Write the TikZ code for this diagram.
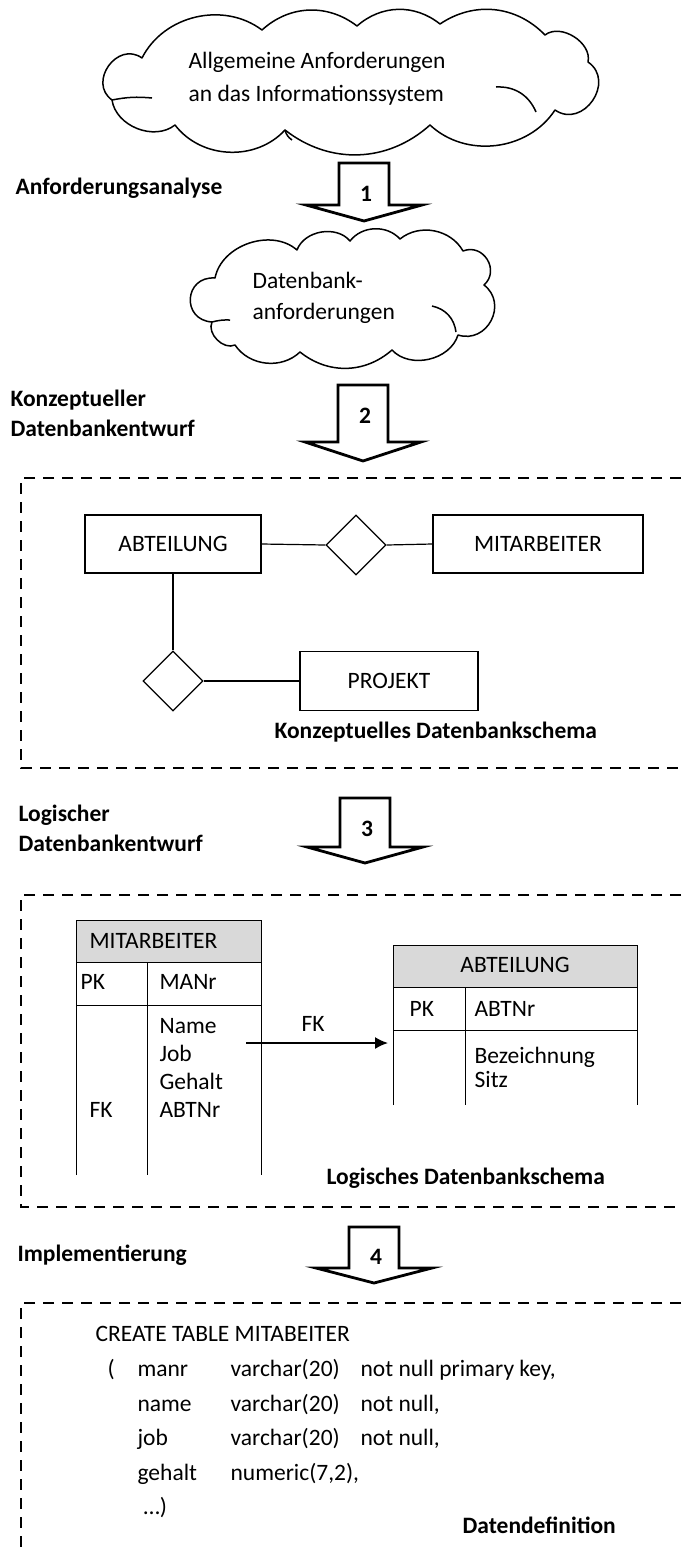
\documentclass[tikz,border=0pt]{standalone}
\usepackage{fontspec}
\setmainfont{Carlito}
\usetikzlibrary{shapes.geometric, arrows.meta}

\definecolor{kopfgrau}{HTML}{D9D9D9}

\begin{document}
\begin{tikzpicture}[x=1pt, y=-1pt, line width=1.2pt,
  txt/.style={font=\fontsize{23.5}{30}\selectfont, inner sep=0pt, anchor=west, text height=17pt, text depth=5pt},
  fett/.style={txt, font=\fontsize{23.5}{30}\selectfont\bfseries},
  wolke/.style={line width=1.5pt, line join=round},
  rahmen/.style={dash pattern=on 11pt off 8pt, line width=1.2pt},
  entity/.style={draw, rectangle, minimum height=58pt, inner sep=0pt, line width=1.3pt, font=\fontsize{23.5}{30}\selectfont},
  relation/.style={draw, diamond, minimum width=60pt, minimum height=60pt, inner sep=0pt, line width=1.3pt},
  blockpfeil/.style={draw, line width=2.8pt, line join=miter, fill=white},
  tabelle/.style={line width=0.9pt}]

  % Page size
  \useasboundingbox (0,0) rectangle (682,1553);

  % Cloud 1
  \draw[wolke] (112,100) to[bend left=90, looseness=1.5] (142,58) to[bend left=50] (262,30)
    to[bend left=40] (357,26) to[bend left=40] (440,24) to[bend left=40] (545,35)
    to[bend left=70] (588,62) to[bend left=90, looseness=1.5] (555,110)
    to[bend left=50] (430,125) to[bend left=40] (285,130) to[bend left=50] (175,125)
    to[bend left=60] (112,100) -- cycle;
  % inner strokes
  \draw[wolke] (112,100) to[bend left=8] (152,98);
  \draw[wolke] (496,87) to[bend left=35] (536,112);
  \draw[wolke] (285,130) to[bend right=20] (292,140);
  \node[txt] (wolke1-a) at (188,62) {Allgemeine Anforderungen};
  \node[txt] (wolke1-b) at (188,95) {an das Informationssystem};

  % Cloud 2
  \draw[wolke] (212,322) to[bend left=90, looseness=1.8] (215,278) to[bend left=60] (297,250)
    to[bend left=60] (350,241) to[bend left=50] (400,239) to[bend left=50] (463,251)
    to[bend left=80, looseness=1.4] (484,285) to[bend left=80, looseness=1.4] (458,335)
    to[bend left=60] (392,350) to[bend left=40] (300,352) to[bend left=50] (235,345)
    to[bend left=70] (212,322) -- cycle;
  % inner strokes
  \draw[wolke] (212,322) to[bend left=8] (230,320);
  \draw[wolke] (432,306) to[bend left=35] (456,332);
  \node[txt] (wolke2-a) at (252,282) {Datenbank-};
  \node[txt] (wolke2-b) at (252,313) {anforderungen};

  % Block arrows: number / x / top / shaft end / tip / label y
  \foreach \n/\x/\t/\s/\e/\ly in {1/364/163/205/221/195, 2/363/385/442/461/417,
                                   3/365/798/847/863/830, 4/374/1227/1268/1283/1258} {
    \draw[blockpfeil] (\x-25,\t) -- (\x+25,\t) -- (\x+25,\s) -- (\x+58,\s)
      -- (\x,\e) -- (\x-58,\s) -- (\x-25,\s) -- cycle;
    \node[fett, anchor=center] (nr\n) at (\x+2,\ly) {\n};
  }

  % Phase labels
  \node[fett] (phase1) at (15,188) {Anforderungsanalyse};
  \node[fett] (phase2a) at (10,400) {Konzeptueller};
  \node[fett] (phase2b) at (10,430) {Datenbankentwurf};
  \node[fett] (phase3a) at (18,815) {Logischer};
  \node[fett] (phase3b) at (18,845) {Datenbankentwurf};
  \node[fett] (phase4) at (17,1255) {Implementierung};

  % Dashed frames (open to the right)
  \draw[rahmen] (700,478) -- (21,478) -- (21,768) -- (700,768);
  \draw[rahmen] (700,895) -- (21,895) -- (21,1207) -- (700,1207);
  \draw[rahmen] (700,1303) -- (21,1303) -- (21,1560);

  % ER schema
  \node[entity, minimum width=176pt] (abteilung) at (173,544) {ABTEILUNG};
  \node[relation] (rel1) at (356,545) {};
  \node[entity, minimum width=210pt] (mitarbeiter) at (538,544) {MITARBEITER};
  \node[relation] (rel2) at (173,681) {};
  \node[entity, minimum width=178pt, minimum height=59pt] (projekt) at (389,681) {PROJEKT};
  \draw (abteilung.east) -- (rel1.west);
  \draw (rel1.east) -- (mitarbeiter.west);
  \draw (abteilung.south) -- (rel2.north);
  \draw (rel2.east) -- (projekt.west);
  \node[fett] (schema1) at (274,732) {Konzeptuelles Datenbankschema};

  % Table MITARBEITER
  \fill[kopfgrau] (76,920) rectangle (261,962);
  \draw[tabelle] (76,1175) -- (76,920) -- (261,920) -- (261,1175);
  \draw[tabelle] (76,962) -- (261,962);
  \draw[tabelle] (76,1005) -- (261,1005);
  \draw[tabelle] (147,962) -- (147,1175);
  \node[txt] (ma-kopf) at (89,942) {MITARBEITER};
  \node[txt] (ma-pk) at (80,983) {PK};
  \node[txt] (ma-manr) at (159,983) {MANr};
  \foreach \a/\y [count=\i] in {Name/1027, Job/1055, Gehalt/1083, ABTNr/1111}
    \node[txt] (ma-attr\i) at (159,\y) {\a};
  \node[txt] (ma-fk) at (89,1111) {FK};

  % Table ABTEILUNG
  \fill[kopfgrau] (393,945) rectangle (637,987);
  \draw[tabelle] (393,1105) -- (393,945) -- (637,945) -- (637,1105);
  \draw[tabelle] (393,987) -- (637,987);
  \draw[tabelle] (393,1030) -- (637,1030);
  \draw[tabelle] (465,987) -- (465,1105);
  \node[txt, anchor=center] (ab-kopf) at (515,966) {ABTEILUNG};
  \node[txt] (ab-pk) at (409,1010) {PK};
  \node[txt] (ab-nr) at (474,1010) {ABTNr};
  \node[txt] (ab-bez) at (474,1057) {Bezeichnung};
  \node[txt] (ab-sitz) at (474,1081) {Sitz};

  % Foreign key
  \coordinate (fk-start) at (246,1043);
  \coordinate (fk-ende) at (388,1043);
  \draw[-{Latex[length=13pt, width=12pt]}, line width=1.6pt] (fk-start) -- (fk-ende);
  \node[txt] (fk) at (301,1025) {FK};
  \node[fett] (schema2) at (326,1178) {Logisches Datenbankschema};

  % Data definition
  \node[txt] (sql0) at (95,1335) {CREATE TABLE MITABEITER};
  \node[txt] (klammer) at (107,1370) {(};
  \node[txt] (sql1a) at (137,1370) {manr};
  \node[txt] (sql1b) at (230,1370) {varchar(20)};
  \node[txt] (sql1c) at (360,1370) {not null primary key,};
  \node[txt] (sql2a) at (137,1405) {name};
  \node[txt] (sql2b) at (230,1405) {varchar(20)};
  \node[txt] (sql2c) at (360,1405) {not null,};
  \node[txt] (sql3a) at (137,1439) {job};
  \node[txt] (sql3b) at (230,1439) {varchar(20)};
  \node[txt] (sql3c) at (360,1439) {not null,};
  \node[txt] (sql4a) at (137,1474) {gehalt};
  \node[txt] (sql4b) at (230,1474) {numeric(7,2),};
  \node[txt] (sql5) at (143,1508) {…)};
  \node[fett] (datdef) at (462,1527) {Datendefinition};

\end{tikzpicture}
\end{document}
